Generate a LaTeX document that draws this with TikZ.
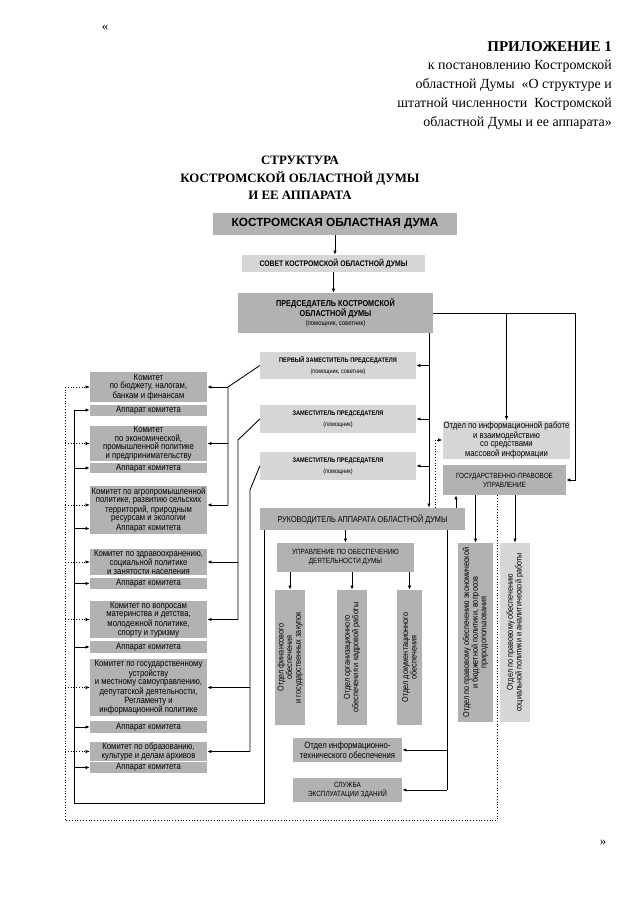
\documentclass[tikz,border=0pt]{standalone}
\usepackage{fontspec}
\setmainfont{Liberation Serif}
\newfontfamily\nar[FakeStretch=0.85]{Liberation Sans}
\newfontfamily\sans{Liberation Sans}
\usetikzlibrary{arrows.meta,positioning,calc}
\newlength\pxl
\setlength\pxl{0.9331pt}
\definecolor{shade}{gray}{0.70}
\definecolor{shadelt}{gray}{0.84}

\begin{document}
\begin{tikzpicture}[x=0.0328125cm, y=-0.0328125cm,
  box/.style={fill=shade, inner sep=1pt, align=center, font=\nar\fontsize{8.5}{7.9}\selectfont},
  lt/.style={fill=shadelt},
  wh/.style 2 args={minimum width=#1\pxl, minimum height=#2\pxl},
  com/.style={box, wh={117}{#1}},
  dep/.style={box, lt, wh={156}{28}, font=\nar\bfseries\fontsize{6.2}{10}\selectfont},
  vbox/.style={box, rotate=90, font=\nar\fontsize{8}{8}\selectfont},
  caps/.style={font=\nar\fontsize{7}{8.5}\selectfont},
  arr/.style={-{Latex[length=4pt,width=3.2pt]}, line width=0.8pt},
  darr/.style={-{Latex[length=4pt,width=3.2pt]}, dotted, line width=0.6pt},
  ln/.style={line width=0.8pt},
  dln/.style={dotted, line width=0.6pt}
]
  \path[fill=white] (0,0) rectangle (640,905);
  % header
  \node[font=\fontsize{12}{15.8}\selectfont] (lq) at (105,28) {«};
  \node[anchor=north east, inner sep=0pt, align=right, font=\fontsize{13}{17.5}\selectfont] (app) at (612,41)
    {{\bfseries\fontsize{14}{17.5}\selectfont ПРИЛОЖЕНИЕ 1}\\к постановлению Костромской\\областной Думы~~«О структуре и\\штатной численности~~Костромской\\областной Думы и ее аппарата»};
  \node[align=center, font=\bfseries\fontsize{12}{16.5}\selectfont] (ttl) at (300,178)
    {СТРУКТУРА\\КОСТРОМСКОЙ ОБЛАСТНОЙ ДУМЫ\\И ЕЕ АППАРАТА};
  \node[font=\fontsize{12}{15.8}\selectfont] (rq) at (603,843) {»};
  % top chain
  \node[box, wh={244}{22}, font=\sans\bfseries\fontsize{11}{12}\selectfont] (duma) at (335,224) {КОСТРОМСКАЯ ОБЛАСТНАЯ ДУМА};
  \node[box, lt, wh={183}{17}, font=\nar\bfseries\fontsize{7.5}{8}\selectfont] (sovet) at (333.5,263.5) {СОВЕТ КОСТРОМСКОЙ ОБЛАСТНОЙ ДУМЫ};
  \node[box, wh={195}{40}, font=\nar\bfseries\fontsize{8}{9}\selectfont] (pred) at (335.5,313)
    {ПРЕДСЕДАТЕЛЬ КОСТРОМСКОЙ\\ОБЛАСТНОЙ ДУМЫ\\{\mdseries\fontsize{6.5}{8}\selectfont(помощник, советник)}};
  % deputies
  \node[dep] (zam1) at (338,365.5) {ПЕРВЫЙ ЗАМЕСТИТЕЛЬ ПРЕДСЕДАТЕЛЯ\\{\mdseries\fontsize{6}{8}\selectfont(помощник, советник)}};
  \node[dep] (zam2) at (338,419) {ЗАМЕСТИТЕЛЬ ПРЕДСЕДАТЕЛЯ\\{\mdseries\fontsize{6}{8}\selectfont(помощник)}};
  \node[dep] (zam3) at (338,466) {ЗАМЕСТИТЕЛЬ ПРЕДСЕДАТЕЛЯ\\{\mdseries\fontsize{6}{8}\selectfont(помощник)}};
  % apparatus
  \node[box, wh={205}{22}, font=\nar\fontsize{8}{9}\selectfont] (ruk) at (362.5,519) {РУКОВОДИТЕЛЬ АППАРАТА ОБЛАСТНОЙ ДУМЫ};
  \node[box, lt, wh={127}{36}, font=\nar\fontsize{8.5}{7.8}\selectfont] (otdinf) at (506.5,440)
    {Отдел по информационной работе\\и взаимодействию\\со средствами\\массовой информации};
  \node[box, caps, wh={123}{30}] (gpu) at (504.5,480) {ГОСУДАРСТВЕННО-ПРАВОВОЕ\\УПРАВЛЕНИЕ};
  \node[box, caps, wh={137}{29}] (upr) at (345.5,557.5) {УПРАВЛЕНИЕ ПО ОБЕСПЕЧЕНИЮ\\ДЕЯТЕЛЬНОСТИ ДУМЫ};
  \node[vbox, wh={135}{30}] (fin) at (290,657.5) {Отдел финансового\\обеспечения\\и государственных закупок};
  \node[vbox, wh={135}{30}] (org) at (352,657.5) {Отдел организационного\\обеспечения и кадровой работы};
  \node[vbox, wh={135}{25}] (doc) at (409.5,657.5) {Отдел документационного\\обеспечения};
  \node[vbox, wh={179}{35}] (pravek) at (475.5,632.5)
    {Отдел по правовому обеспечению экономической\\и бюджетной политики, вопросов\\природопользования};
  \node[vbox, lt, wh={179}{30}] (pravsoc) at (515,632.5)
    {Отдел по правовому обеспечению\\социальной политики и аналитической работы};
  \node[box, wh={109}{24}] (itech) at (347.5,750) {Отдел информационно-\\технического обеспечения};
  \node[box, caps, wh={109}{24}] (sluzh) at (347.5,790) {СЛУЖБА\\ЭКСПЛУАТАЦИИ ЗДАНИЙ};
  % committees
  \node[com=30] (k1) at (148.5,387) {Комитет\\по бюджету, налогам,\\банкам и финансам};
  \node[com=11] (a1) at (148.5,410) {Аппарат комитета};
  \node[com=35] (k2) at (148.5,443.5) {Комитет\\по экономической,\\промышленной политике\\и предпринимательству};
  \node[com=10] (a2) at (148.5,468) {Аппарат комитета};
  \node[com=32] (k3) at (148.5,505) {Комитет по агропромышленной\\политике, развитию сельских\\территорий, природным\\ресурсам и экологии};
  \node[com=11] (a3) at (148.5,528.5) {Аппарат комитета};
  \node[com=24] (k4) at (148.5,562) {Комитет по здравоохранению,\\социальной политике\\и занятости населения};
  \node[com=11] (a4) at (148.5,583.5) {Аппарат комитета};
  \node[com=33] (k5) at (148.5,619.5) {Комитет по вопросам\\материнства и детства,\\молодежной политике,\\спорту и туризму};
  \node[com=12] (a5) at (148.5,647) {Аппарат комитета};
  \node[com=53] (k6) at (148.5,687.5) {Комитет по государственному\\устройству\\и местному самоуправлению,\\депутатской деятельности,\\Регламенту и\\информационной политике};
  \node[com=12] (a6) at (148.5,727) {Аппарат комитета};
  \node[com=19] (k7) at (148.5,751.5) {Комитет по образованию,\\культуре и делам архивов};
  \node[com=11] (a7) at (148.5,767.5) {Аппарат комитета};
  % connectors: top
  \draw[arr] (duma.south) -- (duma.south |- sovet.north);
  \draw[arr] (sovet.south) -- (sovet.south |- pred.north);
  \coordinate (rt) at (575,313);
  \draw[arr] (pred.east) -- (rt) |- (gpu.east);
  \draw[arr] (otdinf.north |- pred.east) -- (otdinf.north);
  \coordinate (tr) at (429,0);
  \draw[arr] (pred.south -| tr) -- (ruk.north -| tr);
  \foreach \z in {zam1,zam2,zam3} \draw[arr] (\z.east -| tr) -- (\z.east);
  \coordinate (dx) at (435,0);
  \draw[darr] (ruk.north -| dx) |- (otdinf.west);
  \coordinate (ux) at (456,0);
  \draw[arr] (ruk.north -| ux) -- (gpu.south -| ux);
  % connectors: committees
  \coordinate (dr) at (497,820);
  \coordinate (dl) at (65,820);
  \draw[dln] (gpu.south -| dr) -- (dr) -- (dl) -- (dl |- k1.west);
  \foreach \i in {1,...,7} \draw[darr] (dl |- k\i.west) -- (k\i.west);
  \coordinate (sr) at (264,803);
  \coordinate (sl) at (74,803);
  \draw[ln] (ruk.south -| sr) -- (sr) -- (sl) -- (sl |- a1.west);
  \foreach \i in {1,...,7} \draw[arr] (sl |- a\i.west) -- (a\i.west);
  \coordinate (v1) at (228,0);
  \coordinate (v2) at (238,440);
  \coordinate (v3) at (250,490);
  \draw[ln] (zam1.west) -- (v1 |- k1.east) -- (v1 |- k3.east);
  \foreach \i in {1,2,3} \draw[arr] (v1 |- k\i.east) -- (k\i.east);
  \draw[ln] (zam2.west) -- (v2) -- (v2 |- k5.east);
  \foreach \i in {4,5} \draw[arr] (v2 |- k\i.east) -- (k\i.east);
  \draw[ln] (zam3.west) -- (v3) -- (v3 |- k7.east);
  \foreach \i in {6,7} \draw[arr] (v3 |- k\i.east) -- (k\i.east);
  % connectors: apparatus
  \draw[arr] (ruk.south -| upr.north) -- (upr.north);
  \foreach \o in {fin,org,doc} \draw[arr] (upr.south -| \o.east) -- (\o.east);
  \coordinate (rv) at (447,0);
  \draw[ln] (ruk.south -| rv) -- (rv |- sluzh.east);
  \foreach \o in {itech,sluzh} \draw[arr] (rv |- \o.east) -- (\o.east);
  \foreach \o in {pravek,pravsoc} \draw[arr] (gpu.south -| \o.east) -- (\o.east);
\end{tikzpicture}
\end{document}
